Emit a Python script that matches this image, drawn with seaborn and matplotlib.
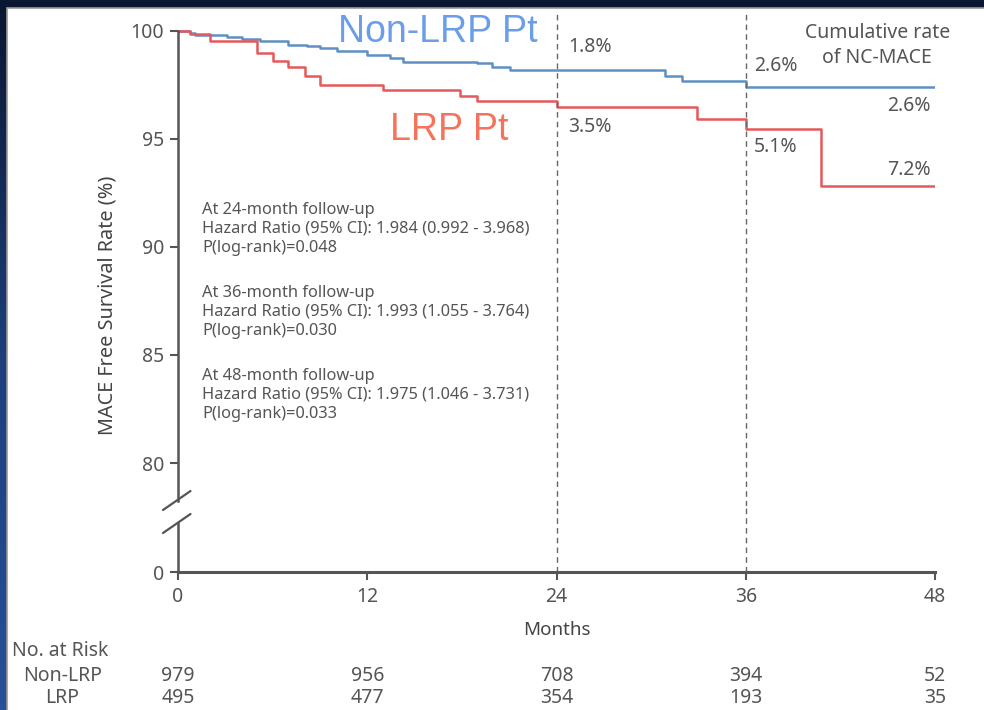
import numpy as np
import pandas as pd
import seaborn as sns
import matplotlib.pyplot as plt
from matplotlib.lines import Line2D
from matplotlib.patches import Rectangle
from matplotlib.colors import LinearSegmentedColormap
from matplotlib.transforms import blended_transform_factory

# Kaplan-Meier steps (month of event, survival after it)
months_nonlrp = [0, 0.76, 1.08, 3.1, 4.06, 5.2, 6.98, 8.18, 9.0, 10.08, 12.0,
                 13.44, 14.27, 18.96, 19.9, 21.05, 30.9, 31.96, 36.0, 48]
surv_nonlrp = [100, 99.92, 99.8, 99.74, 99.62, 99.55, 99.35, 99.28, 99.2, 99.09, 98.89,
               98.74, 98.58, 98.5, 98.35, 98.2, 97.92, 97.7, 97.4, 97.4]
months_lrp = [0, 0.76, 2.03, 5.0, 6.02, 6.98, 8.05, 9.0, 13.0, 17.9, 18.96,
              24.03, 32.9, 36.0, 40.8, 48]
surv_lrp = [100, 99.85, 99.52, 99.0, 98.6, 98.35, 97.92, 97.52, 97.27, 96.99, 96.77,
            96.47, 95.91, 95.45, 92.82, 92.82]

risk_months = [0, 12, 24, 36, 48]
risk_nonlrp = [979, 956, 708, 394, 52]
risk_lrp = [495, 477, 354, 193, 35]

stats_blocks = [
    ["At 24-month follow-up", "Hazard Ratio (95% CI): 1.984 (0.992 - 3.968)", "P(log-rank)=0.048"],
    ["At 36-month follow-up", "Hazard Ratio (95% CI): 1.993 (1.055 - 3.764)", "P(log-rank)=0.030"],
    ["At 48-month follow-up", "Hazard Ratio (95% CI): 1.975 (1.046 - 3.731)", "P(log-rank)=0.033"],
]

df = pd.concat([
    pd.DataFrame({"Months": months_nonlrp, "Survival": surv_nonlrp, "Group": "Non-LRP"}),
    pd.DataFrame({"Months": months_lrp, "Survival": surv_lrp, "Group": "LRP"}),
])

sns.set_style("ticks")
plt.rcParams["font.family"] = ["Noto Sans", "DejaVu Sans"]

W, H = 984, 710
GRAY = "#555555"


def box(x0, y0, x1, y1):
    return [x0 / W, 1 - y1 / H, (x1 - x0) / W, (y1 - y0) / H]


fig = plt.figure(figsize=(W / 100, H / 100), dpi=100, facecolor="#0b1732")
fig.add_artist(Rectangle((6.5 / W, -0.01), 1.1, 1 - 7.5 / H + 0.01, transform=fig.transFigure,
                         facecolor="white", edgecolor="#9a9a9a", linewidth=1.2, zorder=0))

# navy-to-blue strip on the left edge
strip = fig.add_axes([0, 0, 6 / W, 1 - 8 / H])
strip.imshow(np.linspace(0, 1, 200).reshape(-1, 1), aspect="auto",
             cmap=LinearSegmentedColormap.from_list("edge", ["#0b1732", "#1d3f7c", "#26509a"]))
strip.axis("off")

# 21.6 px per percent on the upper panel
ax = fig.add_axes(box(178, 13, 935, 506))
axb = fig.add_axes(box(178, 506, 935, 572), sharex=ax)
for a in (ax, axb):
    a.patch.set_alpha(0)

sns.lineplot(data=df, x="Months", y="Survival", hue="Group",
             palette={"Non-LRP": "#5e90c2", "LRP": "#e5585b"},
             drawstyle="steps-post", linewidth=1.8, legend=False, ax=ax)

ax.set_xlim(0, 48)
ax.set_ylim(78.01, 100.83)
ax.set_yticks([80, 85, 90, 95, 100])
ax.set_xlabel("")
ax.set_ylabel("")
ax.tick_params(axis="x", bottom=False, labelbottom=False)
for s in ("top", "right", "bottom"):
    ax.spines[s].set_visible(False)
ax.spines["left"].set_bounds(78.24, 100)

axb.set_ylim(0, 3.06)
axb.set_yticks([0])
axb.set_xticks(risk_months)
for s in ("top", "right"):
    axb.spines[s].set_visible(False)
axb.spines["left"].set_bounds(0, 2.27)

for a in (ax, axb):
    a.spines["left"].set_color(GRAY)
    a.spines["left"].set_linewidth(1.8)
    a.tick_params(colors=GRAY, labelsize=14, width=1.5, length=6, pad=4)
    for m in (24, 36):
        a.axvline(m, color="#666666", linestyle=(0, (4, 3)), linewidth=1)
axb.spines["bottom"].set_color(GRAY)
axb.spines["bottom"].set_linewidth(2.2)
axb.tick_params(axis="x", pad=5)

# axis break marks
for y0 in (510, 533):
    fig.add_artist(Line2D([163 / W, 190.5 / W], [1 - y0 / H, 1 - (y0 - 19) / H],
                          transform=fig.transFigure, color=GRAY, linewidth=1.6))

fig.text(108 / W, 1 - 305 / H, "MACE Free Survival Rate (%)", rotation=90,
         ha="center", va="center", fontsize=14.3, color="#444444", fontweight="semibold")
fig.text(557 / W, 1 - 630 / H, "Months", ha="center", va="center",
         fontsize=13.5, color="#444444", fontweight="semibold")

# group labels
ax.text(10.15, 99.95, "Non-LRP Pt", color="#6a9ee8", fontsize=27,
        family="Liberation Sans", va="center", ha="left")
ax.text(13.44, 95.42, "LRP Pt", color="#f4735a", fontsize=27,
        family="Liberation Sans", va="center", ha="left")

# cumulative rates
rate_kw = dict(color=GRAY, fontsize=14, va="center")
ax.text(24.73, 99.26, "1.8%", ha="left", **rate_kw)
ax.text(24.73, 95.56, "3.5%", ha="left", **rate_kw)
ax.text(36.5, 98.38, "2.6%", ha="left", **rate_kw)
ax.text(36.5, 94.63, "5.1%", ha="left", **rate_kw)
ax.text(47.7, 96.53, "2.6%", ha="right", **rate_kw)
ax.text(47.7, 93.56, "7.2%", ha="right", **rate_kw)
ax.text(48.95, 99.9, "Cumulative rate", ha="right", **rate_kw)
ax.text(47.8, 98.75, "of NC-MACE", ha="right", **rate_kw)

# hazard ratio blocks
for b, lines in enumerate(stats_blocks):
    for i, line in enumerate(lines):
        py = 210 + b * 83 + i * 19
        ax.text(1.52, 100 - (py - 31) / 21.6, line, color=GRAY, fontsize=11.8,
                va="center", ha="left")

# number at risk table
trans = blended_transform_factory(axb.transData, fig.transFigure)
row_kw = dict(ha="center", va="center", fontsize=14, color=GRAY)
fig.text(60 / W, 1 - 651 / H, "No. at Risk", **row_kw)
fig.text(63 / W, 1 - 676 / H, "Non-LRP", **row_kw)
fig.text(62 / W, 1 - 698 / H, "LRP", **row_kw)
for m, n1, n2 in zip(risk_months, risk_nonlrp, risk_lrp):
    axb.text(m, 1 - 676 / H, str(n1), transform=trans, **row_kw)
    axb.text(m, 1 - 698 / H, str(n2), transform=trans, **row_kw)

fig.savefig("out.png", dpi=100, facecolor=fig.get_facecolor())
